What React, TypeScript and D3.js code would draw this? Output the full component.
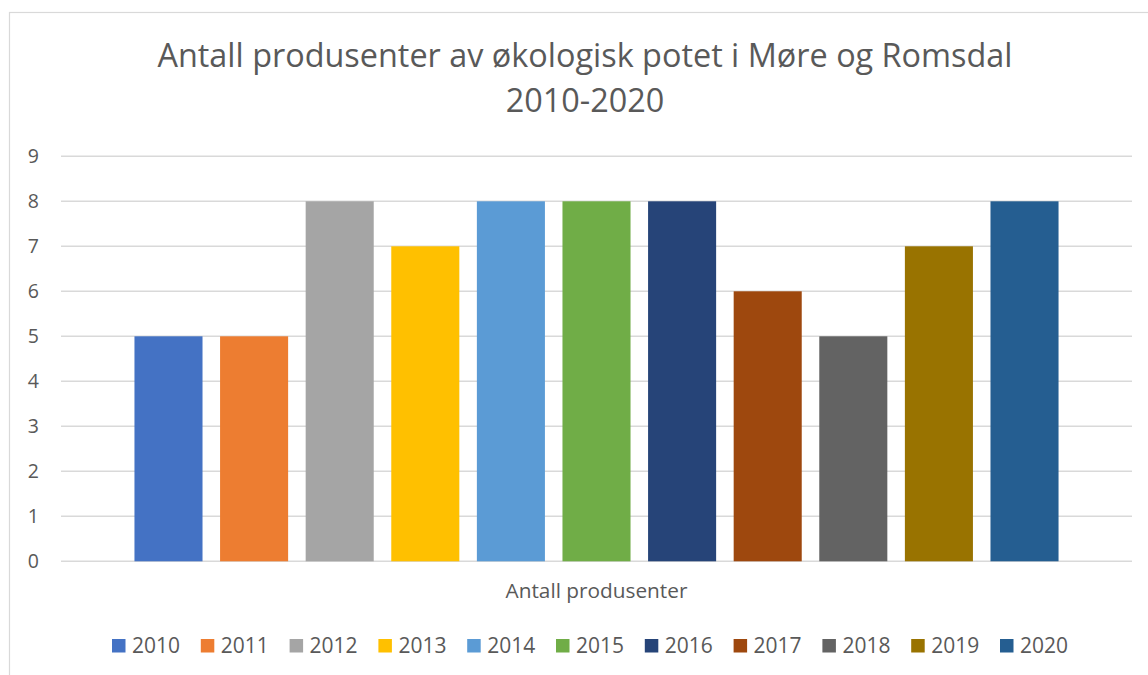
import * as d3 from "d3";

// chart data
const years = ["2010", "2011", "2012", "2013", "2014", "2015", "2016", "2017", "2018", "2019", "2020"];
const values = [5, 5, 8, 7, 8, 8, 8, 6, 5, 7, 8];
const colors = [
  "#4472C4", "#ED7D31", "#A5A5A5", "#FFC000", "#5B9BD5", "#70AD47",
  "#264478", "#9E480E", "#636363", "#997300", "#255E91",
];
const categories = ["Antall produsenter"];
const yTicks = [0, 1, 2, 3, 4, 5, 6, 7, 8, 9];
const titleLines = ["Antall produsenter av økologisk potet i Møre og Romsdal", "2010-2020"];

const width = 1148;
const height = 675;
const font = "'Open Sans', sans-serif";
const textColor = "#595959";
const gridColor = "#D9D9D9";

const plotLeft = 61;
const plotRight = 1132;
const plotTop = 156.3;
const plotBottom = 561.3;

export default function App() {
  const y = d3.scaleLinear().domain([0, 9]).range([plotBottom, plotTop]);

  // one category, series laid out side by side within it
  const x0 = d3.scaleBand().domain(categories).range([plotLeft, plotRight]).paddingOuter(0.0795);
  const x1 = d3.scaleBand().domain(years).range([0, x0.bandwidth()]).paddingInner(0.205).paddingOuter(0);

  const legend = d3.scalePoint().domain(years).range([112, 1000]);

  return (
    <svg
      width={width}
      height={height}
      style={{ position: "absolute", left: 0, top: 0, background: "#fff" }}
      fontFamily={font}
    >
      <rect x={0} y={0} width={width} height={height} fill="#fff" />
      {/* chart border */}
      <rect x={9.5} y={12.5} width={1200} height={800} fill="none" stroke={gridColor} strokeWidth={1.2} />

      {titleLines.map((t, i) => (
        <text key={i} x={585} y={67 + i * 45} textAnchor="middle" fontSize={32.4} fill={textColor}>
          {t}
        </text>
      ))}

      {/* gridlines and y labels */}
      {yTicks.map((t) => (
        <g key={t}>
          <line x1={plotLeft} x2={plotRight} y1={y(t)} y2={y(t)} stroke={gridColor} strokeWidth={1.5} />
          <text x={39} y={y(t)} dy="0.36em" textAnchor="end" fontSize={19.5} fill={textColor}>
            {t}
          </text>
        </g>
      ))}

      {/* bars */}
      {categories.map((c) => (
        <g key={c} transform={`translate(${x0(c)},0)`}>
          {years.map((yr, i) => (
            <rect
              key={yr}
              x={x1(yr)}
              y={y(values[i])}
              width={x1.bandwidth()}
              height={y(0) - y(values[i])}
              fill={colors[i]}
            />
          ))}
          <text
            x={x0.bandwidth() / 2}
            y={598}
            textAnchor="middle"
            fontSize={20.8}
            fill={textColor}
          >
            {c}
          </text>
        </g>
      ))}

      {/* legend */}
      {years.map((yr, i) => (
        <g key={yr} transform={`translate(${legend(yr)},639)`}>
          <rect x={0} y={0} width={13.5} height={13.5} fill={colors[i]} />
          <text x={20} y={14} fontSize={21} fill={textColor}>
            {yr}
          </text>
        </g>
      ))}
    </svg>
  );
}
